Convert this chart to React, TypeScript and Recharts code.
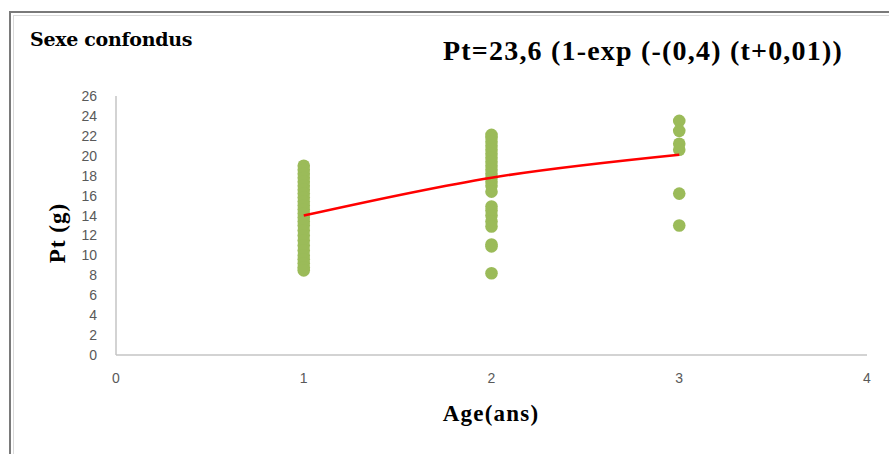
import React from "react";
import { ScatterChart, Scatter, XAxis, YAxis } from "recharts";

// observed weights (g) by age (years)
const age1 = [19, 18.6, 18.2, 17.8, 17.4, 17, 16.6, 16.2, 15.8, 15.4, 15, 14.6, 14.2, 13.8, 13.4, 13, 12.5, 12, 11.5, 11, 10.5, 10, 9.6, 9.2, 8.8, 8.5];
const age2 = [22.1, 21.8, 21.4, 21, 20.6, 20.2, 19.8, 19.4, 19, 18.6, 18.2, 17.8, 17.4, 17, 16.4, 14.9, 14.5, 14, 13.4, 12.9, 11.1, 10.9, 8.2];
const age3 = [23.5, 22.5, 21.2, 20.6, 16.2, 13];

// fitted von Bertalanffy curve
const fitAges = [1, 2, 3];
const fitWeights = [14, 17.8, 20.1];

const xTicks = [0, 1, 2, 3, 4];
const yTicks = [0, 2, 4, 6, 8, 10, 12, 14, 16, 18, 20, 22, 24, 26];

const points = [
  ...age1.map((w) => ({ x: 1, y: w })),
  ...age2.map((w) => ({ x: 2, y: w })),
  ...age3.map((w) => ({ x: 3, y: w })),
];
const fit = fitAges.map((a, i) => ({ x: a, y: fitWeights[i] }));

const tickStyle = { fontFamily: "'Liberation Sans', Arial, sans-serif", fontSize: 14, fill: "#595959" };
const serifBold = { fontFamily: "'Liberation Serif', 'Times New Roman', serif", fontWeight: 700, color: "#000" };

const Dot = (p: any) => <circle cx={p.cx} cy={p.cy} r={6.3} fill="#9bbb59" />;

export default function App() {
  return (
    <div style={{ position: "absolute", left: 0, top: 0, width: 889, height: 454, overflow: "hidden", background: "#fff" }}>
      {/* chart frame, cut off at the right and bottom */}
      <div style={{ position: "absolute", left: 9, top: 11, width: 920, height: 480, borderTop: "2px solid #7a7a7a", borderLeft: "2px solid #7a7a7a" }} />
      <div style={{ position: "absolute", left: 13, top: 15, width: 920, height: 480, borderTop: "1px solid #dadada", borderLeft: "1px solid #dadada" }} />

      <ScatterChart width={889} height={454} margin={{ top: 96, right: 22, bottom: 69, left: 76 }} style={{ position: "absolute", left: 0, top: 0 }}>
        <XAxis
          type="number"
          dataKey="x"
          domain={[0, 4]}
          ticks={xTicks}
          interval={0}
          height={30}
          tickLine={false}
          tickMargin={12}
          axisLine={{ stroke: "#c4c4c4", strokeWidth: 1.5 }}
          tick={tickStyle}
        />
        <YAxis
          type="number"
          dataKey="y"
          domain={[0, 26]}
          ticks={yTicks}
          interval={0}
          width={40}
          tickLine={false}
          tickMargin={13}
          axisLine={{ stroke: "#c4c4c4", strokeWidth: 1.5 }}
          tick={tickStyle}
        />
        <Scatter data={points} fill="#9bbb59" shape={Dot} isAnimationActive={false} />
        <Scatter
          data={fit}
          line={{ stroke: "#ff0000", strokeWidth: 2.5 }}
          lineJointType="monotoneX"
          shape={() => <g />}
          isAnimationActive={false}
        />
      </ScatterChart>

      <div style={{ ...serifBold, position: "absolute", left: 30, top: 28, fontSize: 19, fontFamily: "'DejaVu Serif', serif", letterSpacing: -0.3 }}>
        Sexe confondus
      </div>
      <div style={{ ...serifBold, position: "absolute", left: 443, top: 35, fontSize: 28, letterSpacing: 1.2, whiteSpace: "nowrap" }}>
        Pt=23,6 (1-exp (-(0,4) (t+0,01))
      </div>
      <div style={{ ...serifBold, position: "absolute", left: 491, top: 414, fontSize: 23, letterSpacing: 1.2, transform: "translate(-50%, -50%)", whiteSpace: "nowrap" }}>
        Age(ans)
      </div>
      <div style={{ ...serifBold, position: "absolute", left: 58, top: 233, fontSize: 23, letterSpacing: 1, transform: "translate(-50%, -50%) rotate(-90deg)", whiteSpace: "nowrap" }}>
        Pt (g)
      </div>
    </div>
  );
}
